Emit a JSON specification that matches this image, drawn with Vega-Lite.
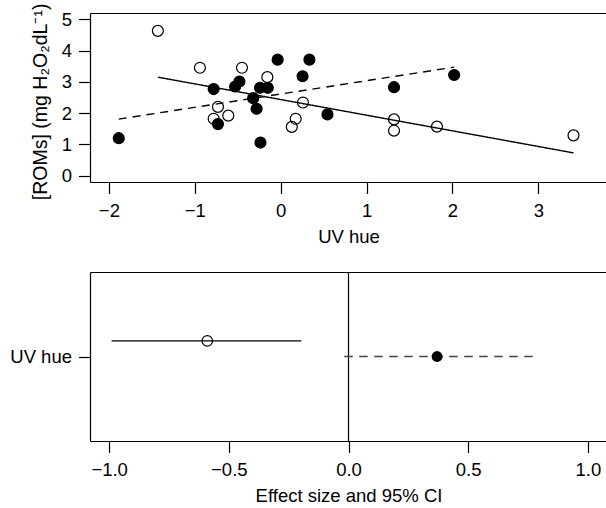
{
  "$schema": "https://vega.github.io/schema/vega-lite/v6.json",
  "padding": {"left": 9, "top": 3, "right": 0, "bottom": 0},
  "spacing": 25,
  "config": {
    "view": {"stroke": null},
    "font": "Liberation Sans",
    "axis": {
      "grid": false,
      "domainColor": "black",
      "domainWidth": 1.2,
      "tickColor": "black",
      "tickWidth": 1.2,
      "tickSize": 11.5,
      "labelColor": "black",
      "titleColor": "black",
      "labelFontSize": 18.5,
      "titleFontSize": 18.5,
      "titleFontWeight": "normal",
      "labelFont": "Liberation Sans",
      "titleFont": "Liberation Sans",
      "labelFlush": false,
      "labelOverlap": false
    }
  },
  "datasets": {
    "rom": [
      {"uv": -1.43, "roms": 4.63, "group": "open"},
      {"uv": -0.94, "roms": 3.45, "group": "open"},
      {"uv": -0.45, "roms": 3.45, "group": "open"},
      {"uv": -0.155, "roms": 3.15, "group": "open"},
      {"uv": -0.73, "roms": 2.2, "group": "open"},
      {"uv": -0.78, "roms": 1.82, "group": "open"},
      {"uv": -0.61, "roms": 1.92, "group": "open"},
      {"uv": 0.26, "roms": 2.34, "group": "open"},
      {"uv": 0.175, "roms": 1.82, "group": "open"},
      {"uv": 0.13, "roms": 1.56, "group": "open"},
      {"uv": 1.32, "roms": 1.8, "group": "open"},
      {"uv": 1.32, "roms": 1.44, "group": "open"},
      {"uv": 1.82, "roms": 1.57, "group": "open"},
      {"uv": 3.41, "roms": 1.29, "group": "open"},
      {"uv": -1.885, "roms": 1.2, "group": "filled"},
      {"uv": -0.78, "roms": 2.77, "group": "filled"},
      {"uv": -0.73, "roms": 1.65, "group": "filled"},
      {"uv": -0.53, "roms": 2.85, "group": "filled"},
      {"uv": -0.48, "roms": 3.01, "group": "filled"},
      {"uv": -0.32, "roms": 2.48, "group": "filled"},
      {"uv": -0.28, "roms": 2.14, "group": "filled"},
      {"uv": -0.235, "roms": 1.06, "group": "filled"},
      {"uv": -0.24, "roms": 2.81, "group": "filled"},
      {"uv": -0.15, "roms": 2.81, "group": "filled"},
      {"uv": -0.035, "roms": 3.71, "group": "filled"},
      {"uv": 0.335, "roms": 3.71, "group": "filled"},
      {"uv": 0.255, "roms": 3.18, "group": "filled"},
      {"uv": 0.545, "roms": 1.96, "group": "filled"},
      {"uv": 1.32, "roms": 2.83, "group": "filled"},
      {"uv": 2.02, "roms": 3.22, "group": "filled"}
    ],
    "fits": [
      {"uv": -1.43, "roms": 3.15, "group": "open"},
      {"uv": 3.41, "roms": 0.73, "group": "open"},
      {"uv": -1.885, "roms": 1.81, "group": "filled"},
      {"uv": 2.02, "roms": 3.47, "group": "filled"}
    ],
    "effects": [
      {"predictor": "UV hue", "group": "open", "est": -0.59, "lo": -0.99, "hi": -0.197},
      {"predictor": "UV hue", "group": "filled", "est": 0.37, "lo": -0.018, "hi": 0.78}
    ]
  },
  "vconcat": [
    {
      "width": 517,
      "height": 169,
      "layer": [
        {
          "data": {"name": "fits"},
          "mark": {"type": "line", "color": "black", "strokeWidth": 1.4},
          "encoding": {
            "x": {"field": "uv", "type": "quantitative", "scale": {"domain": [-2.22, 3.8], "nice": false, "zero": false},
              "axis": {"orient": "top", "labels": false, "ticks": false, "title": null, "domain": true}},
            "y": {"field": "roms", "type": "quantitative", "scale": {"domain": [-0.2, 5.2], "nice": false, "zero": false},
              "axis": {"title": "[ROMs] (mg H₂O₂dL⁻¹)", "values": [0, 1, 2, 3, 4, 5], "labelOverlap": false, "labelAlign": "right", "labelBaseline": "middle", "labelPadding": 7, "titleFontSize": 19.5, "titleAngle": 270, "titleBaseline": "alphabetic", "titleAlign": "center", "titleX": -44, "titleY": 88.4}},
            "strokeDash": {"field": "group", "type": "nominal", "scale": {"domain": ["open", "filled"], "range": [[1, 0], [8, 6]]}, "legend": null}
          }
        },
        {
          "data": {"name": "rom"},
          "mark": {"type": "point", "shape": "circle", "filled": true, "stroke": "black", "strokeWidth": 1.2, "size": 120, "opacity": 1},
          "encoding": {
            "x": {"field": "uv", "type": "quantitative", "scale": {"domain": [-2.22, 3.8], "nice": false, "zero": false},
              "axis": {"orient": "bottom", "title": "UV hue", "values": [-2, -1, 0, 1, 2, 3], "labelBaseline": "alphabetic", "labelPadding": 22.5, "titleBaseline": "alphabetic", "titleY": 60}},
            "y": {"field": "roms", "type": "quantitative", "scale": {"domain": [-0.2, 5.2], "nice": false, "zero": false},
              "axis": {"title": "[ROMs] (mg H₂O₂dL⁻¹)", "values": [0, 1, 2, 3, 4, 5], "labelOverlap": false, "labelAlign": "right", "labelBaseline": "middle", "labelPadding": 7, "titleFontSize": 19.5, "titleAngle": 270, "titleBaseline": "alphabetic", "titleAlign": "center", "titleX": -44, "titleY": 88.4}},
            "fill": {"field": "group", "type": "nominal", "scale": {"domain": ["open", "filled"], "range": ["transparent", "black"]}, "legend": null}
          }
        }
      ],
      "resolve": {"axis": {"x": "independent"}}
    },
    {
      "width": 517,
      "height": 169,
      "data": {"name": "effects"},
      "layer": [
        {
          "transform": [{"filter": "datum.group == 'open'"}],
          "mark": {"type": "rule", "color": "black", "strokeWidth": 1.2},
          "encoding": {
            "x": {"datum": 0, "type": "quantitative", "scale": {"domain": [-1.08, 1.08], "nice": false, "zero": false}, "axis": null}
          }
        },
        {
          "transform": [{"filter": "datum.group == 'open'"}],
          "mark": {"type": "rule", "color": "black", "strokeWidth": 1.4, "yOffset": -15.6},
          "encoding": {
            "x": {"field": "lo", "type": "quantitative", "scale": {"domain": [-1.08, 1.08], "nice": false, "zero": false},
              "axis": {"orient": "bottom", "title": "Effect size and 95% CI", "values": [-1, -0.5, 0, 0.5, 1], "format": ".1f", "labelBaseline": "alphabetic", "labelPadding": 22.5, "titleBaseline": "alphabetic", "titleY": 60}},
            "x2": {"field": "hi"},
            "y": {"field": "predictor", "type": "nominal", "scale": {"type": "point", "padding": 0.5},
              "axis": {"title": null, "labelPadding": 7, "labelAlign": "right", "labelBaseline": "middle", "domain": true}}
          }
        },
        {
          "transform": [{"filter": "datum.group == 'open'"}],
          "mark": {"type": "point", "shape": "circle", "filled": false, "stroke": "black", "strokeWidth": 1.2, "size": 110, "opacity": 1, "yOffset": -15.6},
          "encoding": {
            "x": {"field": "est", "type": "quantitative", "scale": {"domain": [-1.08, 1.08], "nice": false, "zero": false}, "axis": null},
            "y": {"field": "predictor", "type": "nominal"}
          }
        },
        {
          "transform": [{"filter": "datum.group == 'filled'"}],
          "mark": {"type": "rule", "color": "#444444", "strokeWidth": 1.4, "strokeDash": [8.5, 6.5]},
          "encoding": {
            "x": {"field": "lo", "type": "quantitative", "scale": {"domain": [-1.08, 1.08], "nice": false, "zero": false}, "axis": null},
            "x2": {"field": "hi"},
            "y": {"field": "predictor", "type": "nominal"}
          }
        },
        {
          "transform": [{"filter": "datum.group == 'filled'"}],
          "mark": {"type": "point", "shape": "circle", "filled": true, "color": "black", "size": 120, "opacity": 1},
          "encoding": {
            "x": {"field": "est", "type": "quantitative", "scale": {"domain": [-1.08, 1.08], "nice": false, "zero": false},
              "axis": {"orient": "top", "labels": false, "ticks": false, "title": null, "domain": true}},
            "y": {"field": "predictor", "type": "nominal"}
          }
        }
      ],
      "resolve": {"axis": {"x": "independent"}}
    }
  ]
}
